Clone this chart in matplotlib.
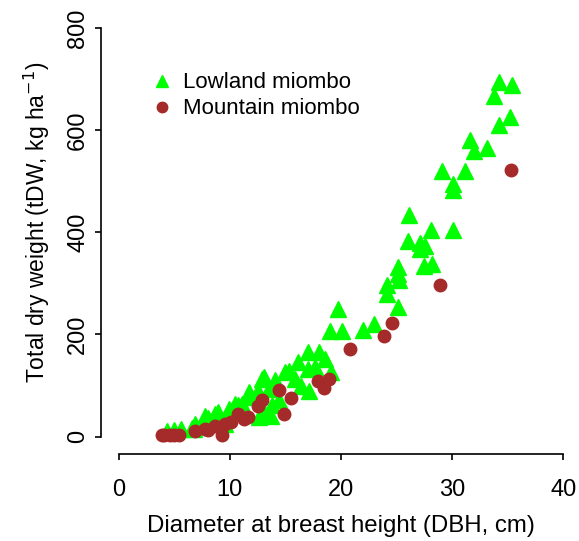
import numpy as np
import matplotlib
matplotlib.use("Agg")
import matplotlib.pyplot as plt

plt.rcParams['font.family'] = ['Liberation Sans', 'DejaVu Sans']

# Lowland miombo: DBH (cm), total dry weight (kg/ha)
lowland_dbh = [34.2, 35.4, 33.8, 35.2, 34.2, 31.6, 33.1, 32.0, 29.1, 31.2,
               30.1, 30.1, 26.1, 28.1, 30.1, 26.0, 27.1, 27.6, 27.1, 27.5,
               28.2, 25.1, 25.1, 25.2, 24.1, 24.1, 25.1, 19.7, 23.0, 22.0,
               20.1, 19.0, 17.0, 18.0, 16.1, 18.6, 15.0, 17.0, 17.7, 19.1,
               12.9, 14.1, 15.9, 16.4, 17.1, 11.7, 13.5, 14.4, 10.5, 11.1,
               13.8, 13.7, 12.6, 12.5, 13.1, 15.3, 9.9, 8.9, 8.7, 8.0,
               6.8, 6.6, 5.6, 5.0, 4.3, 9.6, 7.8, 6.9, 13.2, 10.7, 11.7]
lowland_tdw = [694, 688, 668, 627, 611, 581, 566, 559, 520, 520,
               494, 483, 435, 405, 405, 384, 379, 374, 368, 335,
               338, 333, 319, 306, 296, 280, 253, 250, 220, 208,
               206, 206, 165, 165, 146, 152, 126, 133, 136, 126,
               113, 110, 113, 100, 90, 87, 93, 71, 64, 64,
               61, 41, 38, 90, 116, 129, 54, 48, 44, 36,
               15, 16, 15, 12, 10, 25, 41, 25, 44, 61, 77]

# Mountain miombo
mountain_dbh = [35.3, 28.9, 24.6, 23.9, 20.8, 18.9, 17.9, 18.5, 15.5, 14.4,
                14.9, 12.9, 12.5, 11.6, 10.7, 10.1, 9.6, 9.3, 8.7, 8.0,
                7.8, 6.9, 5.4, 5.0, 4.6, 4.1, 3.9, 11.3]
mountain_tdw = [523, 296, 223, 197, 171, 113, 108, 96, 76, 91,
                44, 72, 60, 38, 44, 28, 25, 3, 20, 12,
                15, 11, 3, 4, 3, 4, 3, 35]

fig = plt.figure(figsize=(5.79, 5.41), dpi=100)
ax = fig.add_axes([0.1744, 0.16, 0.829, 0.818])

ax.plot(lowland_dbh, lowland_tdw, linestyle='none', marker='^', ms=11.5,
        color='#00FF00', label='Lowland miombo')
ax.plot(mountain_dbh, mountain_tdw, linestyle='none', marker='o', ms=9,
        color='#A52A2A', label='Mountain miombo')

ax.set_xlim(-1.6, 41.6)
ax.set_ylim(-35, 832)
ax.set_xticks([0, 10, 20, 30, 40])
ax.set_yticks([0, 200, 400, 600, 800])
ax.spines['top'].set_visible(False)
ax.spines['right'].set_visible(False)
ax.spines['left'].set_bounds(0, 800)
ax.spines['bottom'].set_bounds(0, 40)
ax.tick_params(labelsize=17, length=4.5, width=1.2)
ax.tick_params(axis='x', pad=13)
ax.tick_params(axis='y', pad=4)
for s in ('left', 'bottom'):
    ax.spines[s].set_linewidth(1.2)
plt.setp(ax.get_yticklabels(), rotation=90, va='center')

ax.set_xlabel('Diameter at breast height (DBH, cm)', fontsize=17.3, labelpad=10)
ax.set_ylabel('Total dry weight (tDW, kg ha$^{-1}$)', fontsize=16.5)
ax.yaxis.set_label_coords(-0.101, 0.525)

leg = ax.legend(loc='upper left', bbox_to_anchor=(0.261, 0.866),
                bbox_transform=fig.transFigure, frameon=False, fontsize=16,
                handletextpad=0.45, labelspacing=0.22, handlelength=1.0,
                borderpad=0, borderaxespad=0)
leg.legend_handles[0].set_markersize(8)
leg.legend_handles[1].set_markersize(7.5)

fig.savefig('out.png', dpi=100)
